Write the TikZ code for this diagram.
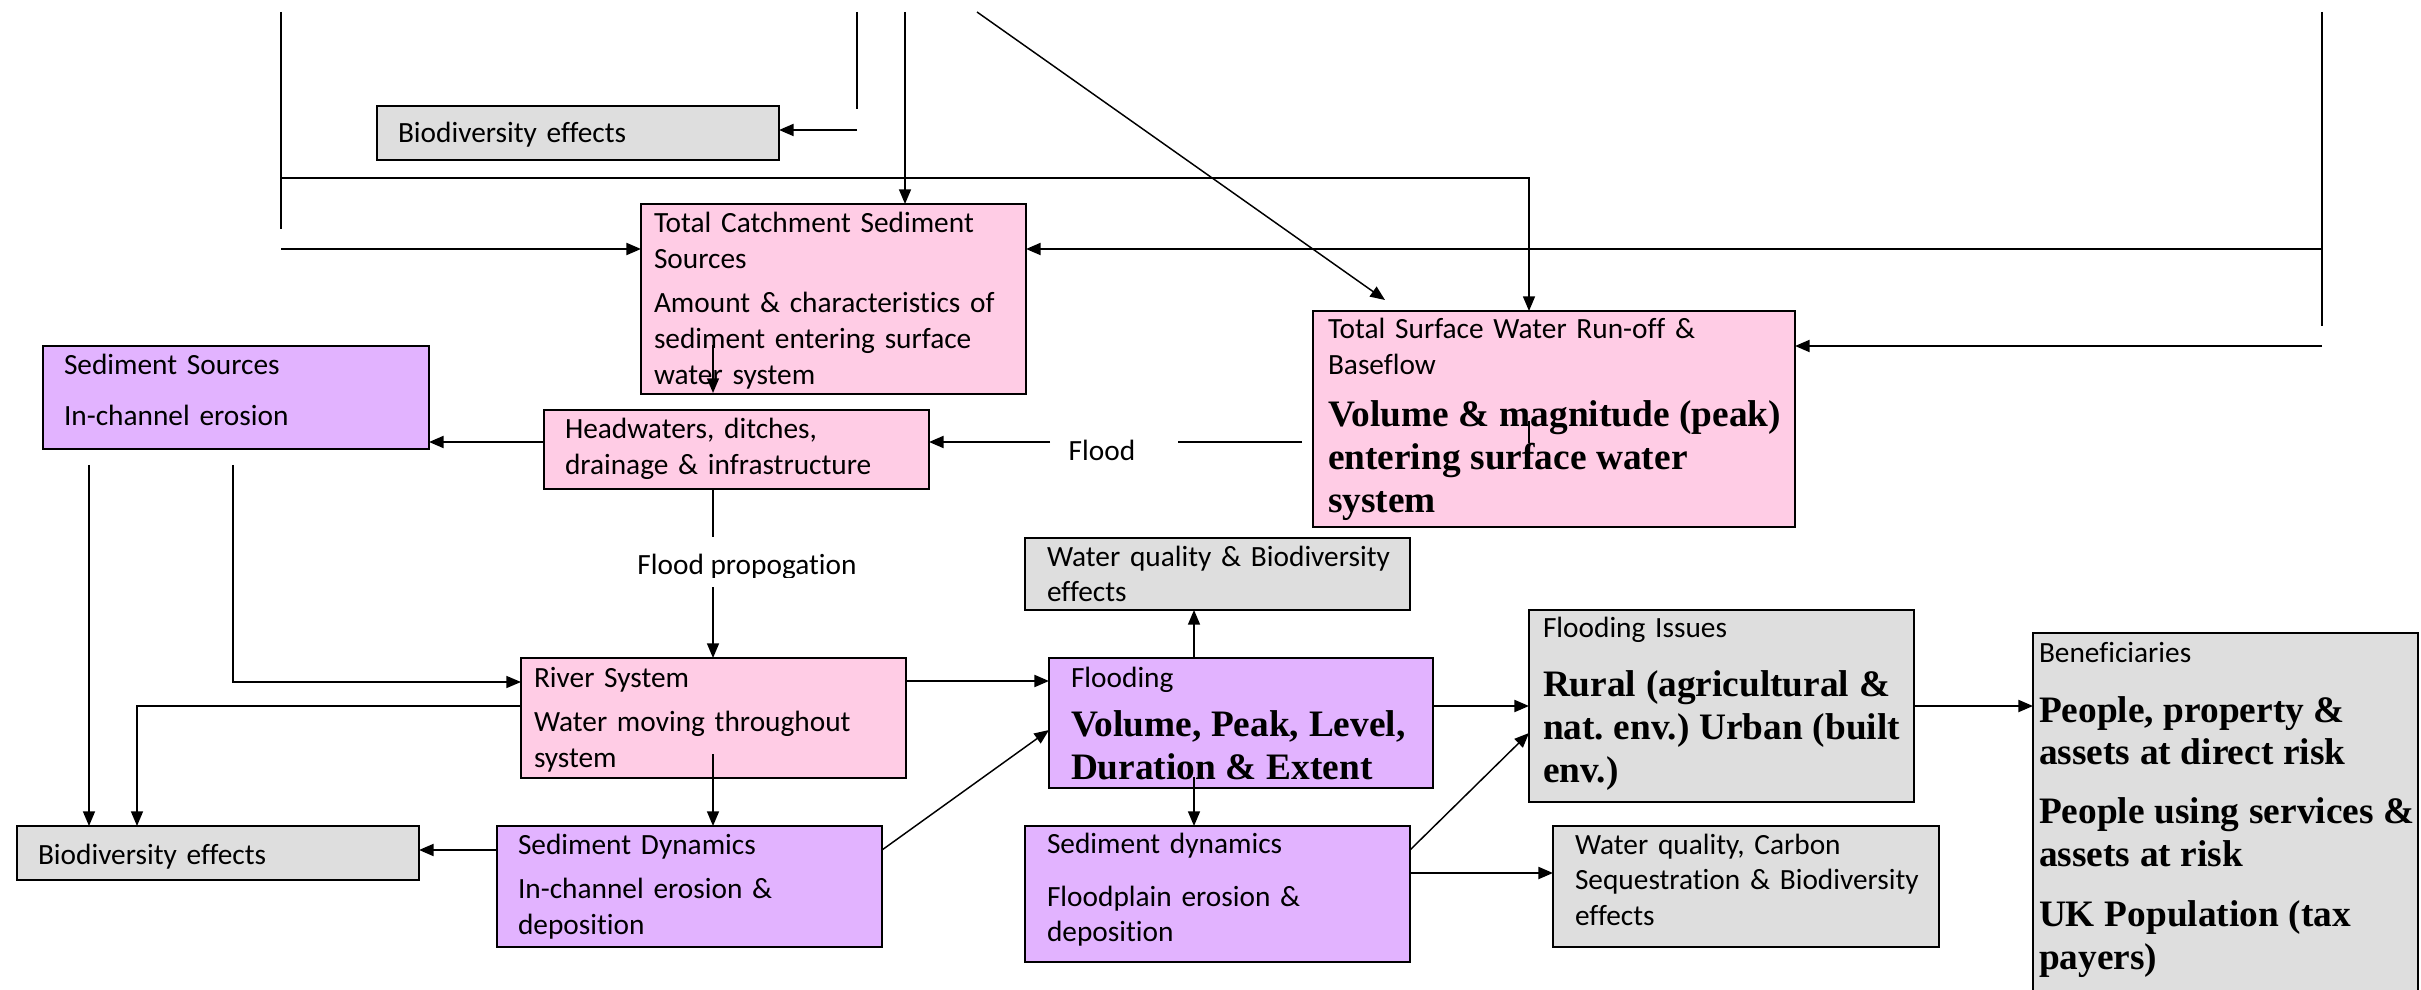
\documentclass[tikz,border=0pt]{standalone}
\usepackage{fontspec}
\setmainfont{Carlito}[Ligatures=NoCommon]
\newfontfamily\tnrfont{Liberation Serif}
\usetikzlibrary{arrows.meta,calc}

\definecolor{pinkfill}{RGB}{255,204,229}
\definecolor{lilacfill}{RGB}{226,179,255}
\definecolor{greyfill}{RGB}{222,222,222}

\newcommand\bodytxt{\frenchspacing\fontsize{11pt}{13.4pt}\selectfont}
\newcommand\bigtxt{\frenchspacing\tnrfont\bfseries\fontsize{14pt}{16.1pt}\selectfont}

\tikzset{
  boxframe/.style={draw=black, line width=0.6pt, inner sep=0pt, outer sep=0pt, anchor=north west},
  pinkbox/.style={boxframe, fill=pinkfill},
  lilacbox/.style={boxframe, fill=lilacfill},
  greybox/.style={boxframe, fill=greyfill},
  boxtext/.style={anchor=base west, inner sep=0pt, outer sep=0pt, align=left, font=\bodytxt},
  wire/.style={line width=0.55pt},
  heavy/.style={line width=0.8pt},
  arr/.style={-{Triangle[length=5.5pt,width=4.5pt]}},
}

% name, style, x1, y1, x2, y2 (pixel grid)
\newcommand\boxat[6]{%
  \node[#2, minimum width={(#5-#3)*0.375pt}, minimum height={(#6-#4)*0.375pt}] (#1) at (#3,#4) {};}

\begin{document}
\begin{tikzpicture}[x=0.375pt, y=-0.375pt]
\clip (0,0) rectangle (2421,990);
\fill[white] (0,0) rectangle (2421,990);

% ---------- boxes ----------
\boxat{bioTop}{greybox}{377}{106}{779}{160}
\boxat{tcs}{pinkbox}{641}{204}{1026}{394}
\boxat{ss}{lilacbox}{43}{346}{429}{449}
\boxat{hw}{pinkbox}{544}{410}{929}{489}
\boxat{tsw}{pinkbox}{1313}{311}{1795}{527}
\boxat{wq}{greybox}{1025}{538}{1410}{610}
\boxat{fi}{greybox}{1529}{610}{1914}{802}
\boxat{ben}{greybox}{2033}{633}{2418}{1010}
\boxat{rs}{pinkbox}{521}{658}{906}{778}
\boxat{fl}{lilacbox}{1049}{658}{1433}{788}
\boxat{bioBot}{greybox}{17}{826}{419}{880}
\boxat{sd}{lilacbox}{497}{826}{882}{947}
\boxat{fds}{lilacbox}{1025}{826}{1410}{962}
\boxat{wqc}{greybox}{1553}{826}{1939}{947}

% ---------- box texts ----------
\node[boxtext, text width=360*0.375pt] (bioTop-t) at (398,143) {Biodiversity effects};
\node[boxtext, text width=370*0.375pt] (tcs-t) at (654,233)
  {Total Catchment Sediment\\Sources\par\vspace{3.2pt}Amount \& characteristics of\\sediment entering surface\\water system};
\node[boxtext, text width=360*0.375pt] (ss-t) at (64,375)
  {Sediment Sources\par\vspace{5.7pt}In-channel erosion};
\node[boxtext, text width=360*0.375pt] (hw-t) at (565,439)
  {Headwaters, ditches,\\drainage \& infrastructure};
\node[boxtext, text width=470*0.375pt] (tsw-t) at (1328,339)
  {Total Surface Water Run-off \&\\Baseflow\par\vspace{3.3pt}{\bigtxt Volume \& magnitude (peak)\\entering surface water\\system\par}};
\node[boxtext, text width=365*0.375pt] (wq-t) at (1047,566)
  {Water quality \& Biodiversity\\effects};
\node[boxtext, text width=365*0.375pt] (fl-t) at (1071,687)
  {Flooding\par\vspace{2.5pt}{\bigtxt Volume, Peak, Level,\\Duration \& Extent\par}};
\node[boxtext, text width=372*0.375pt] (fi-t) at (1543,637)
  {Flooding Issues\par\vspace{6.3pt}{\bigtxt Rural (agricultural \&\\nat. env.) Urban (built\\env.)\par}};
\node[boxtext, text width=365*0.375pt] (fds-t) at (1047,853)
  {Sediment dynamics\par\vspace{6.5pt}Floodplain erosion \&\\deposition};
\node[boxtext, text width=362*0.375pt] (wqc-t) at (1575,854)
  {Water quality, Carbon\\Sequestration \& Biodiversity\\effects};
\node[boxtext, text width=378*0.375pt] (ben-t) at (2039,662)
  {Beneficiaries\par\vspace{6.4pt}{\bigtxt People, property \&\\assets at direct risk\par\vspace{5.8pt}People using services \&\\assets at risk\par\vspace{6.4pt}UK Population (tax\\payers)\par}};
\node[boxtext, text width=370*0.375pt] (rs-t) at (534,687)
  {River System\par\vspace{3.2pt}Water moving throughout\\system};
\node[boxtext, text width=362*0.375pt] (bioBot-t) at (38,864) {Biodiversity effects};
\node[boxtext, text width=362*0.375pt] (sd-t) at (518,854)
  {Sediment Dynamics\par\vspace{3.4pt}In-channel erosion \&\\deposition};

% ---------- incoming lines along the top ----------
\coordinate (l1top) at (281,12);
\coordinate (l1bot) at (281,229);
\draw[wire] (l1top) -- (l1bot);
\coordinate (j1) at (281,178);
\coordinate (k1) at (1529,178);
\draw[wire,arr] (j1) -- (k1) -- (k1 |- tsw.north);
\coordinate (j2) at (281,249);
\draw[heavy,arr] (j2) -- (j2 -| tcs.west);

\coordinate (l2top) at (857,12);
\coordinate (l2bot) at (857,109);
\draw[wire] (l2top) -- (l2bot);
\coordinate (j3) at (857,130);
\draw[heavy,arr] (j3) -- (j3 -| bioTop.east);

\coordinate (l3top) at (905,12);
\draw[wire,arr] (l3top) -- (l3top |- tcs.north);

\coordinate (d1) at (977,12);
\coordinate (d2) at (1385,300);
\draw[wire,arr] (d1) -- (d2);

\coordinate (r1top) at (2322,12);
\coordinate (r1bot) at (2322,326);
\draw[wire] (r1top) -- (r1bot);
\coordinate (j4) at (2322,249);
\draw[heavy,arr] (j4) -- (j4 -| tcs.east);
\coordinate (j5) at (2322,346);
\draw[heavy,arr] (j5) -- (j5 -| tsw.east);

% ---------- short strokes inside boxes ----------
\coordinate (i1) at (713,345);
\coordinate (i2) at (713,393);
\draw[wire,arr] (i1) -- (i2);
\coordinate (i3) at (1529,421);
\coordinate (i4) at (1529,443);
\draw[wire] (i3) -- (i4);

% ---------- flood ----------
\coordinate (f1) at (1302,442);
\coordinate (f2) at (1178,442);
\coordinate (f3) at (1050,442);
\draw[heavy] (f1) -- (f2);
\draw[heavy,arr] (f3) -- (f3 -| hw.east);
\node[anchor=base, inner sep=0pt, font=\bodytxt] (floodlbl) at (1102,461) {Flood};

\coordinate (h1) at (0,442);
\draw[heavy,arr] (hw.west |- h1) -- (ss.east |- h1);

% ---------- flood propagation ----------
\coordinate (v1) at (713,537);
\coordinate (v2) at (713,587);
\draw[wire] (v1 |- hw.south) -- (v1);
\draw[wire,arr] (v2) -- (v2 |- rs.north);
\begin{scope}
  \clip (600,530) rectangle (900,577);
  \node[anchor=base, inner sep=0pt, font=\bodytxt] (proplbl) at (747,574) {Flood propogation};
\end{scope}

% ---------- left side ----------
\coordinate (s1) at (89,465);
\draw[wire,arr] (s1) -- (s1 |- bioBot.north);
\coordinate (s2) at (233,465);
\coordinate (s3) at (233,682);
\draw[wire,arr] (s2) -- (s3) -- (s3 -| rs.west);
\coordinate (s4) at (137,706);
\draw[wire,arr] (s4 -| rs.west) -- (s4) -- (s4 |- bioBot.north);
\coordinate (s5) at (713,754);
\draw[wire,arr] (s5) -- (s5 |- sd.north);
\coordinate (s6) at (0,850);
\draw[heavy,arr] (sd.west |- s6) -- (bioBot.east |- s6);

% ---------- centre and right ----------
\coordinate (s7) at (0,681);
\draw[heavy,arr] (rs.east |- s7) -- (fl.west |- s7);
\coordinate (s8) at (0,730);
\draw[wire,arr] (sd.east |- s6) -- (fl.west |- s8);
\coordinate (s9) at (1194,0);
\draw[wire,arr] (fl.north -| s9) -- (wq.south -| s9);
\coordinate (s10) at (1194,777);
\draw[wire,arr] (s10) -- (s10 |- fds.north);
\coordinate (s11) at (0,706);
\draw[heavy,arr] (fl.east |- s11) -- (fi.west |- s11);
\coordinate (s12) at (0,733);
\draw[wire,arr] (fds.east |- s6) -- (fi.west |- s12);
\coordinate (s13) at (0,873);
\draw[heavy,arr] (fds.east |- s13) -- (wqc.west |- s13);
\draw[heavy,arr] (fi.east |- s11) -- (ben.west |- s11);
\end{tikzpicture}
\end{document}
